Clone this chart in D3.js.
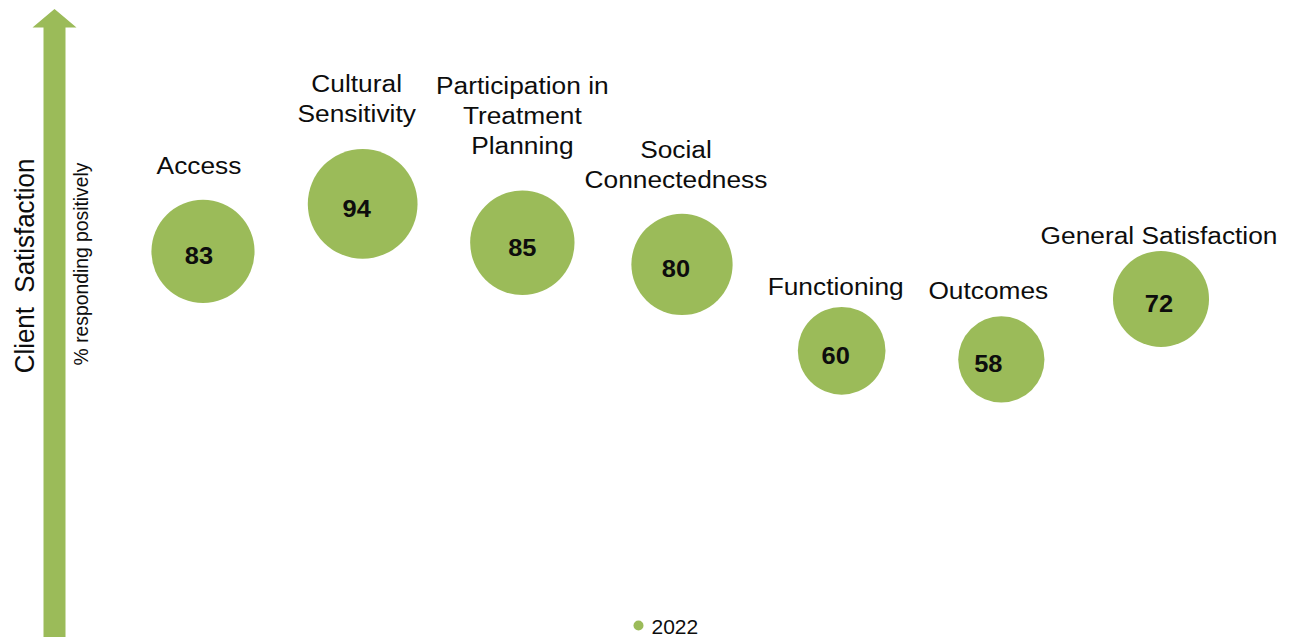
<!DOCTYPE html>
<html>
<head>
<meta charset="utf-8">
<script src="https://cdn.jsdelivr.net/npm/d3@7"></script>
<style>
  html, body { margin: 0; padding: 0; background: #fff; }
  svg text { font-family: "Liberation Sans", Arial, sans-serif; fill: #0d0d0d; }
</style>
</head>
<body>
<div id="chart"></div>
<script>
// DATA
const categories = [
  "Access",
  "Cultural\nSensitivity",
  "Participation in\nTreatment\nPlanning",
  "Social\nConnectedness",
  "Functioning",
  "Outcomes",
  "General Satisfaction"
];
const values = [83, 94, 85, 80, 60, 58, 72];
const seriesName = "2022";
const axisTitle = "Client  Satisfaction";
const axisSubtitle = "% responding positively";

// layout tweaks for the hand-placed labels (px)
const labelGap = [26, 27, 37, 26, 12, 17, 7];
const textDx = [-4, -6, 0, -6, -6, -13, -2];

const width = 1299,
  height = 637,
  green = "#9bbb59",
  lineH = 30;

const svg = d3
  .select("#chart")
  .append("svg")
  .attr("width", width)
  .attr("height", height);

// SCALES
const x = d3.scalePoint().domain(d3.range(values.length)).range([203, 1161]);
const y = d3.scaleLinear().domain([0, 100]).range([610, 178]);
const r = d3.scaleSqrt().domain([0, 100]).range([0, 56.6]);

// big arrow on the left
const arrow = d3.path();
arrow.moveTo(43.5, height);
arrow.lineTo(43.5, 27.5);
arrow.lineTo(32.5, 27.5);
arrow.lineTo(54.5, 9);
arrow.lineTo(76.5, 27.5);
arrow.lineTo(65.5, 27.5);
arrow.lineTo(65.5, height);
arrow.closePath();
svg.append("path").attr("d", arrow.toString()).attr("fill", green);

svg
  .append("text")
  .attr("transform", "translate(33.5,266) rotate(-90) scale(0.96,1)")
  .attr("text-anchor", "middle")
  .style("font-size", "27px")
  .style("white-space", "pre")
  .text(axisTitle);

svg
  .append("text")
  .attr("transform", "translate(87.5,264) rotate(-90) scale(0.92,1)")
  .attr("text-anchor", "middle")
  .style("font-size", "21px")
  .text(axisSubtitle);

// BUBBLES
const pts = values.map((v, i) => ({ i, v, cat: categories[i] }));

const g = svg.append("g").attr("class", "bubbles");

g.selectAll("circle")
  .data(pts)
  .enter()
  .append("circle")
  .attr("cx", d => x(d.i))
  .attr("cy", d => y(d.v))
  .attr("r", d => r(d.v))
  .attr("fill", green);

// values inside bubbles
g.selectAll(".val")
  .data(pts)
  .enter()
  .append("text")
  .attr("class", "val")
  .attr("transform", d => `translate(${x(d.i) + textDx[d.i]},${y(d.v) + 12.8}) scale(1.06,1)`)
  .attr("text-anchor", "middle")
  .style("font-size", "24px")
  .style("font-weight", "bold")
  .text(d => d.v);

// category labels above bubbles
const labels = g
  .selectAll(".lbl")
  .data(pts)
  .enter()
  .append("text")
  .attr("class", "lbl")
  .attr("text-anchor", "middle")
  .style("font-size", "23.5px")
  .attr("transform", d => {
    const lines = d.cat.split("\n");
    const lastBase = y(d.v) - r(d.v) - labelGap[d.i];
    const firstBase = lastBase - (lines.length - 1) * lineH;
    return `translate(${x(d.i) + textDx[d.i]},${firstBase}) scale(1.12,1)`;
  });

labels
  .selectAll("tspan")
  .data(d => d.cat.split("\n"))
  .enter()
  .append("tspan")
  .attr("x", 0)
  .attr("dy", (d, k) => (k === 0 ? 0 : lineH))
  .text(d => d);

// LEGEND
const legend = svg.append("g").attr("transform", "translate(638.5,625.5)");
legend.append("circle").attr("r", 5).attr("fill", green);
legend
  .append("text")
  .attr("x", 13)
  .attr("y", 8)
  .style("font-size", "21px")
  .text(seriesName);
</script>
</body>
</html>
